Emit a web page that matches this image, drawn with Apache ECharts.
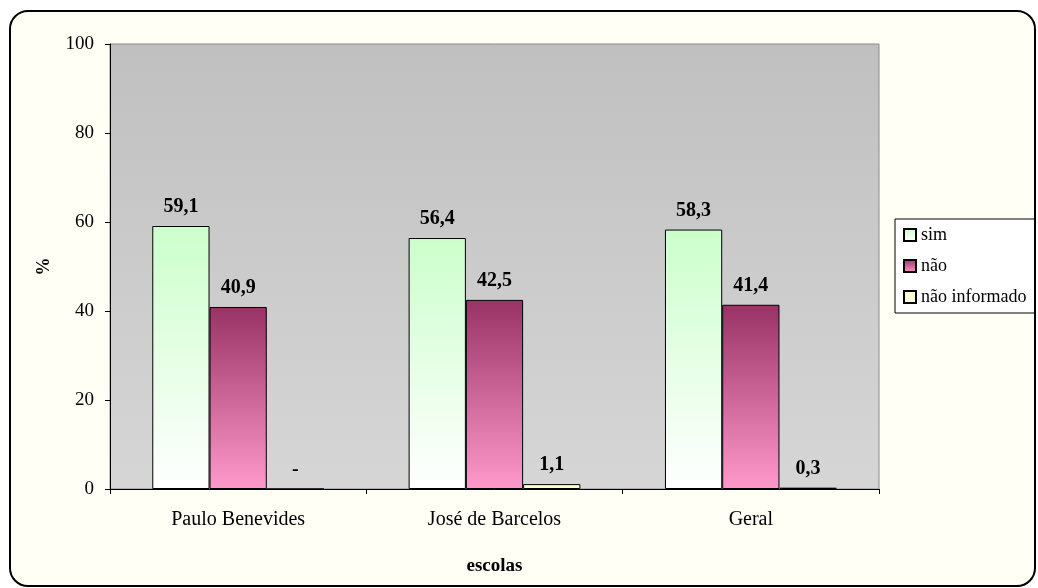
<!DOCTYPE html>
<html><head><meta charset="utf-8">
<script src="https://cdn.jsdelivr.net/npm/echarts@6/dist/echarts.min.js"></script>
<style>html,body{margin:0;padding:0;background:#fff}#c{width:1038px;height:588px}</style>
</head><body><div id="c"></div>
<script>
const categories = ['Paulo Benevides', 'José de Barcelos', 'Geral'];
const simValues = [59.1, 56.4, 58.3];
const naoValues = [40.9, 42.5, 41.4];
const naoInfValues = [0, 1.1, 0.3];
const seriesNames = ['sim', 'não', 'não informado'];
const yTicks = [0, 20, 40, 60, 80, 100];

const font = 'Liberation Serif, Times New Roman, serif';
const G = echarts.graphic;
function fmt(p){ return p.value === 0 ? '-' : String(p.value.toFixed(1)).replace('.', ','); }
function mk(name, data, top, bottom){
  return {
    name, type: 'bar', data,
    barGap: '0%', barCategoryGap: '33%',
    itemStyle: {
      color: new G.LinearGradient(0,0,0,1,[{offset:0,color:top},{offset:1,color:bottom}]),
      borderColor: '#000', borderWidth: 1
    },
    label: { show: true, position: 'top', distance: 9, formatter: fmt,
      fontFamily: font, fontWeight: 'bold', fontSize: 20, color: '#000' }
  };
}
const chart = echarts.init(document.getElementById('c'));
chart.setOption({
  animation: false,
  backgroundColor: '#fff',
  graphic: [{ type: 'rect', z: -10, silent: true,
    shape: { x: 10, y: 11, width: 1025, height: 575, r: 18 },
    style: { fill: '#fffff6', stroke: '#000', lineWidth: 2 } }],
  grid: { left: 110, right: 159, top: 44, bottom: 99, show: true,
    borderColor: '#8a8a8a', borderWidth: 1,
    backgroundColor: new G.LinearGradient(0,0,0,1,[{offset:0,color:'#c0c0c0'},{offset:1,color:'#d6d6d6'}]) },
  legend: { orient: 'vertical', left: 895, top: 219, data: seriesNames,
    icon: 'rect',
    backgroundColor: '#fff', borderColor: '#000', borderWidth: 1,
    padding: [7, 8, 7, 8], itemWidth: 12, itemHeight: 12, itemGap: 13,
    textStyle: { fontFamily: font, fontSize: 18, color: '#000' } },
  xAxis: { type: 'category', data: categories,
    name: 'escolas', nameLocation: 'middle', nameGap: 68,
    nameTextStyle: { fontFamily: font, fontWeight: 'bold', fontSize: 19, color: '#000' },
    axisLine: { lineStyle: { color: '#000', width: 1 } },
    axisTick: { show: true, length: 5, lineStyle: { color: '#000' } },
    axisLabel: { fontFamily: font, fontSize: 20, color: '#000', margin: 21 } },
  yAxis: { type: 'value', min: 0, max: 100, interval: 20,
    name: '%', nameLocation: 'middle', nameGap: 57, nameRotate: 90,
    nameTextStyle: { fontFamily: font, fontWeight: 'bold', fontSize: 18, color: '#000' },
    axisLine: { show: true, lineStyle: { color: '#000', width: 1 } },
    axisTick: { show: true, length: 5, lineStyle: { color: '#000' } },
    splitLine: { show: false },
    axisLabel: { fontFamily: font, fontSize: 19, color: '#000', margin: 16,
      formatter: v => yTicks.includes(v) ? String(v) : '' } },
  series: [
    mk(seriesNames[0], simValues, '#ccffcc', '#ffffff'),
    mk(seriesNames[1], naoValues, '#993366', '#ff99cc'),
    mk(seriesNames[2], naoInfValues, '#ffffcc', '#ffffe8')
  ]
});
</script></body></html>
